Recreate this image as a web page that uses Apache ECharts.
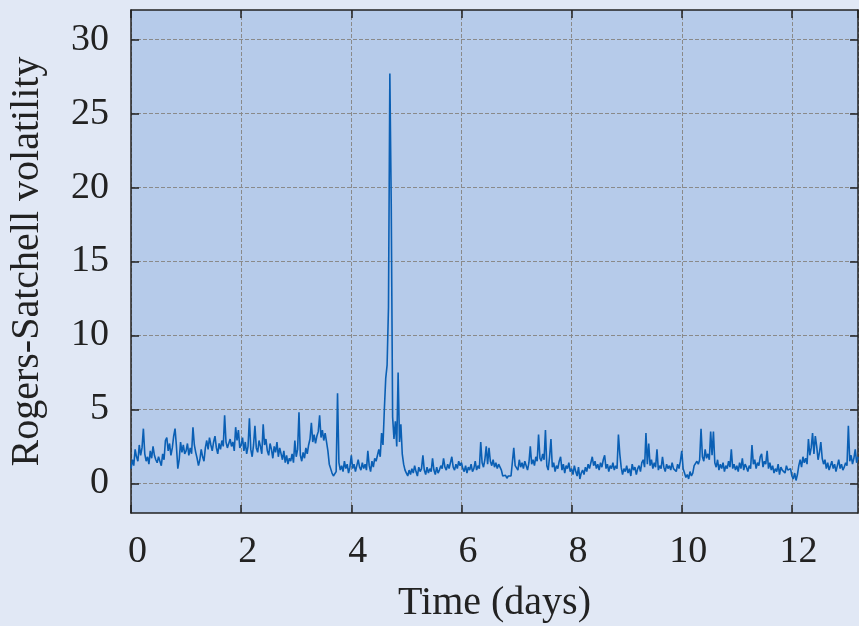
<!DOCTYPE html>
<html>
<head>
<meta charset="utf-8">
<title>Rogers-Satchell volatility</title>
<script src="https://cdn.jsdelivr.net/npm/echarts@6/dist/echarts.min.js"></script>
<style>
  html, body { margin: 0; padding: 0; background: #e1e8f5; }
  #chart { width: 859px; height: 626px; }
</style>
</head>
<body>
<div id="chart"></div>
<script>
// Sampling of the volatility series (days)
const START_DAY = 0;
const STEP_DAYS = 0.025;

// Rogers-Satchell volatility, one block per day
const day0 = [1.0, 1.6, 1.2, 2.3, 1.8, 1.5, 2.6, 1.9, 2.4, 3.7, 2.0, 1.5, 1.8, 1.3, 2.2, 1.7, 2.5, 1.9, 1.6, 1.4,
  1.8, 1.5, 1.2, 2.0, 1.6, 2.9, 3.1, 2.2, 2.7, 1.9, 2.4, 3.2, 3.7, 2.5, 1.0, 1.6, 2.8, 2.1, 2.6, 2.0];
const day1 = [2.2, 2.7, 1.9, 2.4, 2.0, 3.8, 2.6, 2.1, 1.7, 1.2, 1.6, 2.3, 1.8, 1.5, 2.4, 2.9, 2.3, 3.1, 2.6, 2.2,
  2.8, 3.2, 2.4, 2.0, 2.7, 2.3, 2.9, 2.5, 4.6, 2.8, 2.4, 2.7, 3.0, 2.5, 2.8, 2.2, 3.8, 2.9, 3.6, 2.4];
const day2 = [2.6, 3.1, 2.2, 2.8, 2.0, 2.5, 4.4, 2.3, 1.8, 2.6, 3.9, 2.4, 2.1, 2.9, 2.5, 2.0, 4.0, 2.6, 3.0, 2.2,
  1.9, 2.7, 2.3, 1.7, 2.5, 2.1, 2.8, 1.8, 2.4, 2.0, 1.6, 2.2, 1.4, 1.9, 1.3, 1.7, 1.5, 2.0, 1.4, 2.9];
const day3 = [1.8, 2.3, 4.8, 1.9, 1.5, 2.1, 1.7, 2.4, 2.0, 2.6, 3.0, 4.1, 2.8, 3.3, 2.7, 3.2, 3.5, 4.6, 3.1, 3.6,
  2.9, 3.4, 2.8, 2.2, 1.3, 1.0, 0.7, 0.5, 0.6, 0.8, 6.1, 1.4, 0.9, 1.2, 0.8, 1.5, 1.0, 1.3, 0.7, 1.1];
const day4 = [1.9, 1.0, 1.3, 0.8, 1.2, 1.6, 1.1, 0.9, 1.4, 1.0, 1.3, 0.9, 2.2, 1.2, 0.8, 1.5, 1.1, 1.7, 1.5, 1.9,
  2.3, 1.8, 3.4, 2.6, 5.0, 7.1, 8.0, 11.9, 27.7, 18.9, 4.5, 3.0, 4.2, 2.5, 7.5, 2.8, 4.0, 2.0, 1.3, 0.9];
const day5 = [0.7, 0.5, 0.9, 0.6, 1.0, 0.7, 1.2, 0.8, 0.5, 1.1, 0.8, 1.0, 1.9, 0.9, 0.6, 1.1, 0.7, 1.0, 0.8, 1.7,
  0.9, 0.6, 1.1, 0.7, 0.9, 1.2, 1.0, 1.7, 1.1, 0.9, 1.3, 1.0, 1.4, 1.8, 1.1, 0.9, 1.3, 1.0, 1.5, 1.2];
const day6 = [1.4, 1.0, 0.8, 1.2, 0.7, 1.1, 0.9, 1.3, 0.8, 1.0, 1.5, 0.9, 1.2, 1.0, 2.8, 1.4, 1.1, 1.6, 2.5, 1.3,
  2.4, 1.5, 1.2, 1.6, 1.1, 1.4, 1.0, 1.3, 1.2, 0.9, 0.5, 0.4, 0.55, 0.35, 0.5, 0.4, 0.5, 0.45, 2.4, 1.2];
const day7 = [1.3, 0.9, 1.6, 1.1, 1.4, 1.0, 1.5, 1.2, 0.9, 1.4, 2.5, 1.3, 1.6, 1.2, 1.8, 1.5, 3.3, 1.7, 1.5, 2.0,
  1.6, 3.6, 1.2, 0.9, 1.8, 3.0, 1.1, 1.4, 0.8, 1.2, 1.0, 1.5, 1.8, 0.9, 1.3, 0.7, 1.2, 1.0, 1.4, 0.8];
const day8 = [1.0, 0.6, 1.2, 0.8, 0.5, 1.1, 0.3, 0.7, 0.9, 0.6, 1.1, 0.8, 1.3, 1.0, 0.9, 1.8, 1.2, 1.5, 1.0, 1.3,
  0.9, 1.4, 1.1, 1.6, 1.9, 1.0, 1.3, 0.8, 1.2, 1.0, 1.4, 0.9, 1.2, 1.0, 3.3, 2.0, 1.1, 0.6, 1.0, 0.8];
const day9 = [1.2, 0.7, 1.0, 0.5, 1.3, 0.9, 1.1, 0.6, 1.0, 1.2, 0.8, 1.4, 1.6, 1.1, 3.4, 1.3, 2.7, 1.2, 1.6, 1.0,
  1.4, 1.1, 2.3, 0.9, 1.2, 1.0, 1.8, 1.1, 0.8, 1.3, 1.0, 1.2, 0.9, 1.4, 1.0, 1.1, 0.8, 1.3, 1.0, 1.5];
const day10 = [2.2, 1.0, 0.7, 0.4, 0.6, 0.3, 0.8, 0.5, 0.7, 1.2, 1.1, 1.5, 1.3, 1.6, 3.7, 1.8, 1.5, 2.3, 1.7, 2.0,
  1.6, 3.5, 1.9, 3.5, 1.4, 1.1, 1.6, 0.9, 1.3, 1.0, 1.4, 0.8, 1.2, 1.0, 1.5, 1.1, 2.3, 1.0, 1.3, 0.9];
const day11 = [1.2, 0.8, 1.4, 1.0, 1.7, 0.9, 1.3, 1.1, 0.8, 1.2, 1.0, 2.6, 1.3, 1.6, 1.0, 1.4, 1.2, 1.8, 2.0, 1.1,
  1.5, 1.3, 2.2, 1.0, 1.4, 0.9, 1.2, 0.7, 1.0, 0.8, 1.3, 0.6, 1.1, 0.9, 1.0, 0.7, 1.2, 0.9, 0.8, 1.0];
const day12 = [0.5, 0.3, 0.7, 0.2, 0.6, 1.2, 1.6, 1.1, 1.8, 1.4, 1.7, 1.3, 3.0, 1.9, 2.4, 3.4, 2.0, 3.2, 2.5, 1.6,
  2.1, 2.8, 1.7, 1.3, 1.6, 1.0, 1.4, 0.9, 1.2, 1.5, 1.0, 1.3, 0.8, 1.2, 1.6, 1.0, 1.3, 0.9, 1.1, 1.4,
  1.2, 3.9, 1.5, 1.9, 1.3, 1.7, 2.3, 1.4, 1.8];

// Axis ranges and tick labels
const X_MIN = 0, X_MAX = 13.2, X_STEP = 2;
const Y_MIN = -2, Y_MAX = 32;
const yTicks = [0, 5, 10, 15, 20, 25, 30];

const volatility = [].concat(day0, day1, day2, day3, day4, day5, day6, day7, day8, day9, day10, day11, day12);
const seriesData = volatility.map((v, i) => [+(START_DAY + i * STEP_DAYS).toFixed(3), v]);

const FONT = 'Liberation Serif';
const TICK_SIZE = 38;
const NAME_SIZE = 40;
const INK = '#222';
const frameLine = { show: true, onZero: false, lineStyle: { color: INK, width: 1.5 } };
const frameTick = { show: true, inside: true, length: 8, lineStyle: { color: INK, width: 1.5 } };
const gridLine = { show: true, lineStyle: { color: '#8a8a8a', width: 1, type: [4, 2] } };

const chart = echarts.init(document.getElementById('chart'), null, { renderer: 'canvas' });
chart.setOption({
  animation: false,
  backgroundColor: '#e1e8f5',
  textStyle: { fontFamily: FONT },
  grid: {
    left: 131, right: 1, top: 10, bottom: 113,
    outerBoundsMode: 'none',
    containLabel: false,
    show: true, backgroundColor: '#b6cbea', borderWidth: 0
  },
  xAxis: [{
    type: 'value', position: 'bottom',
    min: X_MIN, max: X_MAX, interval: X_STEP,
    name: 'Time (days)', nameLocation: 'middle', nameGap: 70,
    nameTextStyle: { fontFamily: FONT, fontSize: NAME_SIZE, color: INK },
    axisLine: frameLine,
    axisTick: frameTick,
    axisLabel: {
      margin: 20, fontFamily: FONT, fontSize: TICK_SIZE, color: INK,
      showMaxLabel: false, padding: [0, 0, 0, 13]
    },
    splitLine: gridLine
  }, {
    type: 'value', position: 'top',
    min: X_MIN, max: X_MAX, interval: X_STEP,
    axisLine: frameLine,
    axisTick: frameTick,
    axisLabel: { show: false },
    splitLine: { show: false }
  }],
  yAxis: [{
    type: 'value', position: 'left',
    min: Y_MIN, max: Y_MAX,
    name: 'Rogers-Satchell volatility', nameLocation: 'middle', nameGap: 84,
    nameTextStyle: { fontFamily: FONT, fontSize: NAME_SIZE, color: INK },
    axisLine: frameLine,
    axisTick: Object.assign({ customValues: yTicks }, frameTick),
    axisLabel: { margin: 22, fontFamily: FONT, fontSize: TICK_SIZE, color: INK, customValues: yTicks },
    splitLine: gridLine
  }, {
    type: 'value', position: 'right',
    min: Y_MIN, max: Y_MAX,
    axisLine: frameLine,
    axisTick: Object.assign({ customValues: yTicks }, frameTick),
    axisLabel: { show: false },
    splitLine: { show: false }
  }],
  series: [{
    type: 'line',
    xAxisIndex: 0, yAxisIndex: 0,
    data: seriesData,
    showSymbol: false,
    sampling: null,
    lineStyle: { color: '#0a5fb4', width: 1.6 },
    z: 3
  }]
});
</script>
</body>
</html>
